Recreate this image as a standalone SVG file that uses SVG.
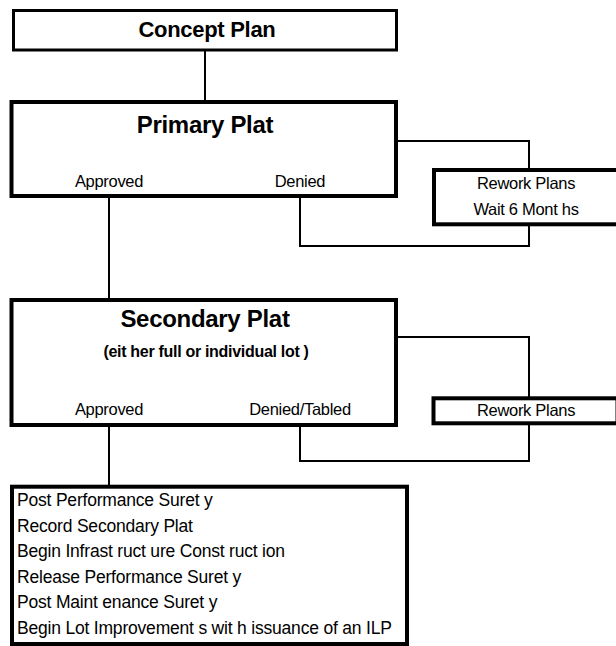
<svg xmlns="http://www.w3.org/2000/svg" width="616" height="646" viewBox="0 0 616 646">
<style>
.box{fill:#fff;stroke:#000;stroke-width:4}
.thin{stroke-width:3}
.con{fill:none;stroke:#000;stroke-width:2}
text{font-family:"Liberation Sans",Arial,sans-serif;fill:#000}
.h{font-weight:bold;text-anchor:middle;letter-spacing:-0.3px}
.l{font-size:16.5px;text-anchor:middle;letter-spacing:-0.3px}
.li{font-size:17.5px;letter-spacing:-0.2px}
</style>
<rect width="616" height="646" fill="#fff"/>
<g id="connectors">
<path class="con" d="M205,50V102"/>
<path class="con" d="M398,141H529V170"/>
<path class="con" d="M300,198V246H529V226"/>
<path class="con" d="M109,198V300"/>
<path class="con" d="M398,337H529V398"/>
<path class="con" d="M300,427V461H529V425"/>
<path class="con" d="M109,427V487"/>
</g>
<g id="concept-plan">
<rect class="box thin" x="13.5" y="10.5" width="383" height="39.5"/>
<text class="h" x="207" y="37" font-size="22">Concept  Plan</text>
</g>
<g id="primary-plat">
<rect class="box" x="11.5" y="102" width="384.5" height="94"/>
<text class="h" x="205" y="133" font-size="24">Primary Plat</text>
<text class="l" x="109" y="187">Approved</text>
<text class="l" x="300" y="187">Denied</text>
</g>
<g id="rework-1">
<rect class="box" x="434" y="170" width="184" height="54.3"/>
<text class="l" x="526" y="189" font-size="15.5">Rework Plans</text>
<text class="l" x="526" y="215" font-size="15.5">Wait 6 Mont hs</text>
</g>
<g id="secondary-plat">
<rect class="box" x="11.5" y="300" width="384.5" height="125"/>
<text class="h" x="205" y="327" font-size="24">Secondary Plat</text>
<text class="h" x="206" y="357" font-size="16">(eit her full or individual lot )</text>
<text class="l" x="109" y="415">Approved</text>
<text class="l" x="300" y="415">Denied/Tabled</text>
</g>
<g id="rework-2">
<rect class="box" x="433.5" y="398.3" width="184" height="25"/>
<text class="l" x="526" y="416" font-size="15.5">Rework Plans</text>
</g>
<g id="steps">
<rect class="box" x="12" y="486.7" width="395" height="157.3"/>
<text class="li" x="17" y="506">Post Performance Suret y</text>
<text class="li" x="17" y="531.5">Record Secondary Plat</text>
<text class="li" x="17" y="557">Begin Infrast ruct ure Const ruct ion</text>
<text class="li" x="17" y="582.5">Release Performance Suret y</text>
<text class="li" x="17" y="608">Post Maint enance Suret y</text>
<text class="li" x="17" y="633.5">Begin Lot  Improvement s wit h issuance of an ILP</text>
</g>
</svg>
